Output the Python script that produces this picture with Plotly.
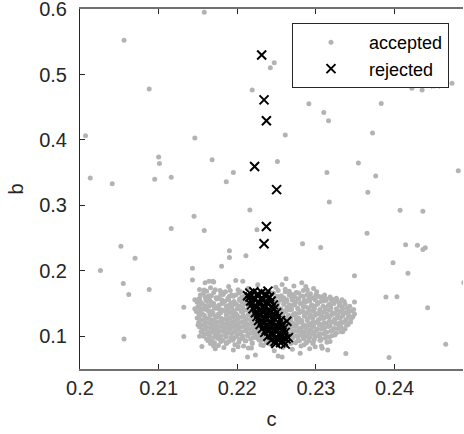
import plotly.graph_objects as go

# ---------------- data ----------------
# accepted: scattered samples away from the main cloud
acc_out_c = [0.2056, 0.2088, 0.2007, 0.2146, 0.2100, 0.2101, 0.2013, 0.2041, 0.2095, 0.2116,
             0.2145, 0.2116, 0.2052, 0.2070, 0.2026, 0.2143, 0.2055, 0.2143, 0.2062, 0.2088, 0.2132, 0.2056, 0.2132,
             0.2247, 0.2242, 0.2219, 0.2261, 0.2168, 0.2195, 0.2186, 0.2251, 0.2216, 0.2158, 0.2225, 0.2190, 0.2190, 0.2211, 0.2180, 0.2283,
             0.2158, 0.2422, 0.2435, 0.2450, 0.2473,
             0.2291, 0.2310, 0.2316, 0.2383, 0.2372, 0.2354, 0.2314, 0.2376, 0.2481, 0.2366, 0.2317, 0.2407, 0.2436,
             0.2365, 0.2306, 0.2414, 0.2429, 0.2436, 0.2439, 0.2398, 0.2417, 0.2349, 0.2488, 0.2389, 0.2403, 0.2442, 0.2465, 0.2393]
acc_out_b = [0.5523, 0.478, 0.4064, 0.403, 0.374, 0.364, 0.342, 0.333, 0.340, 0.343,
             0.2834, 0.2646, 0.2377, 0.2194, 0.2006, 0.2041, 0.1808, 0.1859, 0.164, 0.1716, 0.1442, 0.0959, 0.0995,
             0.518, 0.5105, 0.4765, 0.4075, 0.3698, 0.3505, 0.3363, 0.3673, 0.2931, 0.2616, 0.2627, 0.2306, 0.2204, 0.223, 0.2072, 0.2413,
             0.5954, 0.479, 0.4765, 0.4826, 0.4867,
             0.4552, 0.4419, 0.4293, 0.4557, 0.4105, 0.3648, 0.3505, 0.345, 0.353, 0.32, 0.3053, 0.2925, 0.291,
             0.2575, 0.2357, 0.2398, 0.2392, 0.2326, 0.2352, 0.2123, 0.1965, 0.1925, 0.182, 0.16, 0.1605, 0.1437, 0.0878, 0.0675]

# accepted: fringe of the main cloud
acc_fr_c = [0.2159, 0.2170, 0.2198, 0.2207, 0.2226, 0.2257, 0.2262, 0.2282, 0.2287, 0.2349, 0.2338, 0.2308, 0.2280,
            0.2252, 0.2257, 0.2213, 0.2223, 0.2155, 0.2150, 0.2152, 0.2152, 0.2152, 0.2169, 0.2164, 0.2152, 0.2158]
acc_fr_b = [0.1818, 0.1828, 0.1854, 0.1843, 0.1788, 0.1793, 0.188, 0.1818, 0.1762, 0.1523, 0.0737, 0.0817, 0.0741,
            0.070, 0.0684, 0.0684, 0.0715, 0.0843, 0.1172, 0.1575, 0.143, 0.100, 0.1843, 0.1843, 0.1716, 0.1706]

# accepted: main cloud (first set)
acc_core_c = [
    .2166, .2178, .2189, .2201, .2214, .2236, .2249, .2261, .2272, .2284, .2297,
    .2157, .2164, .2170, .2179, .2185, .2193, .2202, .2208, .2217, .2231, .2239, .2246, .2256, .2261, .2270, .2278, .2284, .2293, .2300, .2308,
    .2151, .2159, .2165, .2173, .2180, .2188, .2195, .2203, .2210, .2233, .2241, .2248, .2255, .2263, .2269, .2277, .2285, .2291, .2299, .2306, .2313, .2320, .2326,
    .2149, .2156, .2162, .2170, .2177, .2184, .2192, .2199, .2206, .2213, .2238, .2245, .2252, .2259, .2266, .2274, .2281, .2288, .2295, .2302, .2310, .2317, .2323, .2330, .2336,
    .2150, .2157, .2164, .2171, .2178, .2186, .2193, .2200, .2207, .2214, .2242, .2249, .2256, .2263, .2270, .2277, .2284, .2291, .2298, .2305, .2312, .2319, .2326, .2333, .2340,
    .2148, .2155, .2163, .2169, .2176, .2184, .2190, .2198, .2205, .2212, .2219, .2246, .2253, .2260, .2267, .2274, .2281, .2289, .2296, .2303, .2310, .2317, .2324, .2331, .2338, .2345,
    .2152, .2159, .2166, .2173, .2180, .2187, .2195, .2201, .2208, .2215, .2222, .2250, .2257, .2264, .2271, .2278, .2285, .2292, .2299, .2306, .2313, .2320, .2327, .2334, .2341, .2347,
    .2153, .2160, .2167, .2174, .2181, .2188, .2196, .2203, .2210, .2217, .2224, .2254, .2261, .2268, .2275, .2282, .2289, .2296, .2303, .2310, .2317, .2324, .2331, .2338, .2344,
    .2154, .2161, .2168, .2176, .2183, .2190, .2197, .2204, .2211, .2218, .2225, .2232, .2262, .2269, .2276, .2283, .2290, .2297, .2304, .2311, .2318, .2325, .2332, .2339,
    .2156, .2163, .2170, .2177, .2184, .2191, .2198, .2205, .2212, .2219, .2226, .2233, .2265, .2272, .2279, .2286, .2293, .2300, .2307, .2314, .2321, .2328, .2334,
    .2158, .2165, .2172, .2179, .2186, .2193, .2200, .2207, .2214, .2221, .2228, .2235, .2268, .2275, .2282, .2289, .2296, .2303, .2310, .2317, .2324,
    .2161, .2168, .2175, .2182, .2189, .2196, .2203, .2210, .2217, .2224, .2231, .2238, .2270, .2277, .2284, .2291, .2298, .2305, .2312, .2318,
    .2166, .2176, .2187, .2197, .2208, .2219, .2230, .2242, .2262, .2274, .2285, .2296, .2307,
    .2172, .2195, .2218, .2247, .2270, .2292, .2315,
]
acc_core_b = [
    .174, .170, .176, .171, .173, .169, .175, .172, .177, .170, .173,
    .166, .162, .167, .164, .168, .163, .166, .161, .165, .167, .163, .166, .162, .168, .164, .166, .161, .165, .163, .160,
    .157, .160, .155, .159, .156, .158, .161, .155, .159, .157, .160, .155, .158, .156, .160, .157, .155, .159, .156, .160, .157, .155, .158,
    .152, .149, .153, .150, .148, .153, .151, .149, .152, .150, .153, .149, .151, .154, .148, .152, .150, .153, .148, .151, .154, .149, .152, .150, .153,
    .145, .142, .146, .143, .141, .146, .144, .142, .145, .147, .143, .146, .141, .144, .147, .142, .145, .143, .146, .141, .144, .147, .142, .145, .143,
    .138, .135, .139, .136, .134, .139, .137, .135, .138, .140, .136, .139, .134, .137, .140, .135, .138, .136, .139, .134, .137, .140, .135, .138, .136, .139,
    .131, .128, .132, .129, .127, .132, .130, .128, .131, .133, .129, .132, .127, .130, .133, .128, .131, .129, .132, .127, .130, .133, .128, .131, .129, .130,
    .124, .121, .125, .122, .120, .125, .123, .121, .124, .126, .122, .125, .120, .123, .126, .121, .124, .122, .125, .120, .123, .126, .121, .124, .122,
    .117, .114, .118, .115, .113, .118, .116, .114, .117, .119, .115, .113, .118, .115, .119, .114, .117, .115, .118, .113, .116, .119, .114, .117,
    .110, .107, .111, .108, .106, .111, .109, .107, .110, .112, .108, .106, .111, .108, .112, .107, .110, .108, .111, .106, .109, .112, .107,
    .103, .100, .104, .101, .099, .104, .102, .100, .103, .105, .101, .099, .104, .101, .105, .100, .103, .101, .104, .099, .102,
    .096, .093, .097, .094, .092, .097, .095, .093, .096, .098, .094, .092, .097, .094, .098, .093, .096, .094, .097, .092,
    .089, .086, .090, .087, .085, .089, .087, .088, .086, .090, .087, .089, .085,
    .081, .079, .082, .078, .080, .081, .079,
]

# accepted: main cloud (second set, between the first set's samples)
acc_core2_c = [
    .2161, .2172, .2183, .2191, .2204, .2213, .2243, .2252, .2266, .2275, .2289, .2301,
    .2153, .2161, .2167, .2176, .2182, .2190, .2198, .2206, .2244, .2251, .2259, .2266, .2273, .2281, .2289, .2296, .2303, .2311, .2318,
    .2146, .2153, .2160, .2167, .2174, .2182, .2189, .2196, .2203, .2210, .2248, .2256, .2263, .2270, .2278, .2285, .2292, .2299, .2306, .2313, .2320, .2327, .2333,
    .2152, .2160, .2167, .2174, .2181, .2189, .2196, .2203, .2210, .2217, .2251, .2259, .2266, .2273, .2280, .2287, .2294, .2302, .2309, .2316, .2323, .2330, .2337, .2343,
    .2146, .2153, .2160, .2167, .2174, .2181, .2188, .2195, .2202, .2209, .2216, .2255, .2262, .2269, .2277, .2284, .2291, .2298, .2305, .2312, .2319, .2327, .2334, .2341, .2348,
    .2151, .2158, .2165, .2172, .2179, .2186, .2193, .2200, .2207, .2214, .2221, .2258, .2265, .2272, .2279, .2286, .2293, .2300, .2307, .2314, .2321, .2328, .2335, .2342, .2349,
    .2149, .2156, .2163, .2170, .2177, .2184, .2191, .2198, .2205, .2212, .2219, .2226, .2261, .2268, .2275, .2282, .2289, .2296, .2303, .2310, .2317, .2324, .2331, .2338, .2345,
    .2151, .2158, .2165, .2172, .2179, .2186, .2193, .2200, .2207, .2214, .2221, .2228, .2264, .2271, .2278, .2285, .2292, .2299, .2306, .2313, .2320, .2327, .2334, .2341,
    .2152, .2159, .2166, .2173, .2180, .2187, .2194, .2201, .2208, .2215, .2222, .2229, .2236, .2267, .2274, .2281, .2288, .2295, .2302, .2309, .2316, .2323, .2330, .2337,
    .2154, .2161, .2168, .2175, .2182, .2189, .2196, .2203, .2210, .2217, .2224, .2231, .2238, .2270, .2277, .2284, .2291, .2298, .2305, .2312, .2319, .2326, .2332,
    .2157, .2164, .2171, .2178, .2185, .2192, .2199, .2206, .2213, .2220, .2227, .2234, .2241, .2271, .2278, .2285, .2292, .2299, .2306, .2313, .2320,
    .2163, .2171, .2179, .2186, .2194, .2202, .2211, .2219, .2228, .2237, .2268, .2279, .2288, .2297, .2306, .2314,
    .2170, .2183, .2201, .2214, .2233, .2258, .2281, .2299,
]
acc_core2_b = [
    .169, .171, .167, .170, .168, .172, .166, .170, .169, .167, .171, .168,
    .163, .160, .162, .159, .164, .161, .163, .160, .164, .161, .159, .163, .160, .162, .164, .159, .161, .163, .160,
    .156, .153, .155, .152, .157, .154, .156, .153, .157, .154, .152, .156, .153, .155, .157, .152, .154, .156, .153, .155, .157, .154, .156,
    .149, .146, .148, .145, .150, .147, .149, .146, .150, .147, .145, .149, .146, .148, .150, .145, .147, .149, .146, .148, .150, .147, .149, .146,
    .142, .139, .141, .138, .143, .140, .142, .139, .143, .140, .138, .142, .139, .141, .143, .138, .140, .142, .139, .141, .143, .140, .142, .139, .141,
    .135, .132, .134, .131, .136, .133, .135, .132, .136, .133, .131, .135, .132, .134, .136, .131, .133, .135, .132, .134, .136, .133, .135, .132, .134,
    .128, .125, .127, .124, .129, .126, .128, .125, .129, .126, .124, .128, .125, .127, .129, .124, .126, .128, .125, .127, .129, .126, .128, .125, .127,
    .121, .118, .120, .117, .122, .119, .121, .118, .122, .119, .117, .121, .118, .120, .122, .117, .119, .121, .118, .120, .122, .119, .121, .118,
    .114, .111, .113, .110, .115, .112, .114, .111, .115, .112, .110, .114, .111, .113, .115, .110, .112, .114, .111, .113, .115, .112, .114, .111,
    .107, .104, .106, .103, .108, .105, .107, .104, .108, .105, .103, .107, .104, .106, .108, .103, .105, .107, .104, .106, .108, .105, .107,
    .100, .097, .099, .096, .101, .098, .100, .097, .101, .098, .096, .100, .097, .099, .101, .096, .098, .100, .097, .099, .101,
    .093, .090, .092, .089, .094, .091, .093, .090, .094, .091, .089, .093, .090, .092, .094, .091,
    .085, .083, .084, .082, .086, .083, .085, .084,
]

# rejected: dense band
rej_core_c = [
    .2216, .2221, .2226, .2231, .2236,
    .2216, .2221, .2226, .2231, .2236, .2241,
    .2217, .2222, .2227, .2232, .2237, .2243,
    .2218, .2223, .2228, .2234, .2239, .2246,
    .2220, .2225, .2230, .2235, .2240, .2247,
    .2223, .2228, .2233, .2238, .2243, .2250,
    .2225, .2230, .2235, .2240, .2246, .2252,
    .2227, .2232, .2237, .2242, .2248, .2255,
    .2229, .2234, .2239, .2244, .2250, .2257,
    .2232, .2237, .2242, .2247, .2253, .2259,
    .2235, .2240, .2245, .2250, .2256, .2261,
    .2239, .2244, .2249, .2254, .2259,
    .2243, .2248, .2253, .2258, .2262,
    .2249, .2255, .2261,
    .2213, .2239, .2263, .2265, .2240,
]
rej_core_b = [
    .166, .168, .165, .167, .164,
    .160, .158, .161, .159, .162, .160,
    .154, .156, .153, .155, .152, .154,
    .148, .146, .149, .147, .150, .148,
    .142, .144, .141, .143, .140, .142,
    .136, .134, .137, .135, .138, .136,
    .130, .132, .129, .131, .128, .130,
    .124, .122, .125, .123, .126, .124,
    .118, .120, .117, .119, .116, .118,
    .112, .110, .113, .111, .114, .112,
    .106, .108, .105, .107, .104, .106,
    .100, .102, .099, .101, .098,
    .094, .092, .095, .093, .096,
    .089, .090, .088,
    .162, .169, .123, .098, .158,
]
# rejected: isolated samples
rej_out_c = [0.2231, 0.2234, 0.2237, 0.2222, 0.2250, 0.2237, 0.2234, 0.2452]
rej_out_b = [0.530, 0.4613, 0.4293, 0.3596, 0.3241, 0.2677, 0.2413, 0.4867]

x_ticks = [0.20, 0.21, 0.22, 0.23, 0.24]
x_tick_labels = ["0.2", "0.21", "0.22", "0.23", "0.24"]
y_ticks = [0.1, 0.2, 0.3, 0.4, 0.5, 0.6]
y_tick_labels = ["0.1", "0.2", "0.3", "0.4", "0.5", "0.6"]

acc_c = acc_out_c + acc_fr_c + acc_core_c + acc_core2_c
acc_b = acc_out_b + acc_fr_b + acc_core_b + acc_core2_b
rej_c = rej_core_c + rej_out_c
rej_b = rej_core_b + rej_out_b

# ---------------- figure ----------------
FONT = "Liberation Sans, Arial, Helvetica, sans-serif"
AX = "#262626"

fig = go.Figure()
fig.add_trace(go.Scatter(
    x=acc_c, y=acc_b, mode="markers", name="accepted",
    marker=dict(symbol="circle", size=5, color="#b3b3b3", line=dict(width=0)),
))
fig.add_trace(go.Scatter(
    x=rej_c, y=rej_b, mode="markers", name="rejected",
    marker=dict(symbol="x-thin", size=9, color="black", line=dict(width=2, color="black")),
))

fig.update_layout(
    width=464, height=434,
    margin=dict(l=80, r=1, t=9, b=65),
    paper_bgcolor="white", plot_bgcolor="white",
    font=dict(family=FONT, size=20, color=AX),
    showlegend=True,
    legend=dict(
        x=0.5535, y=0.961, xanchor="left", yanchor="top",
        bgcolor="white", bordercolor=AX, borderwidth=1,
        font=dict(family=FONT, size=18, color="black"),
        itemwidth=66, tracegroupgap=0,
    ),
    xaxis=dict(
        range=[0.2, 0.2487], tickvals=x_ticks, ticktext=x_tick_labels,
        showgrid=False, zeroline=False, showline=True, linecolor="#707070", linewidth=1.5,
        mirror="ticks", ticks="inside", ticklen=5, tickcolor=AX, tickwidth=1,
        title=dict(text="c", font=dict(size=20, color=AX), standoff=14),
        ticklabelstandoff=0, automargin=False, ticklabeloverflow="allow",
    ),
    yaxis=dict(
        range=[0.05, 0.6002], tickvals=y_ticks, ticktext=y_tick_labels,
        showgrid=False, zeroline=False, showline=True, linecolor=AX, linewidth=1,
        mirror=False, ticks="inside", ticklen=5, tickcolor=AX, tickwidth=1,
        title=dict(text="b", font=dict(size=20, color=AX), standoff=10),
        ticklabelstandoff=8, automargin=False, ticklabeloverflow="allow",
    ),
)

# remove the browser's default 8px body margin so the figure fills the window
fig.write_html("out.html", config={"displayModeBar": False},
               post_script="document.body.style.margin='0px';")
